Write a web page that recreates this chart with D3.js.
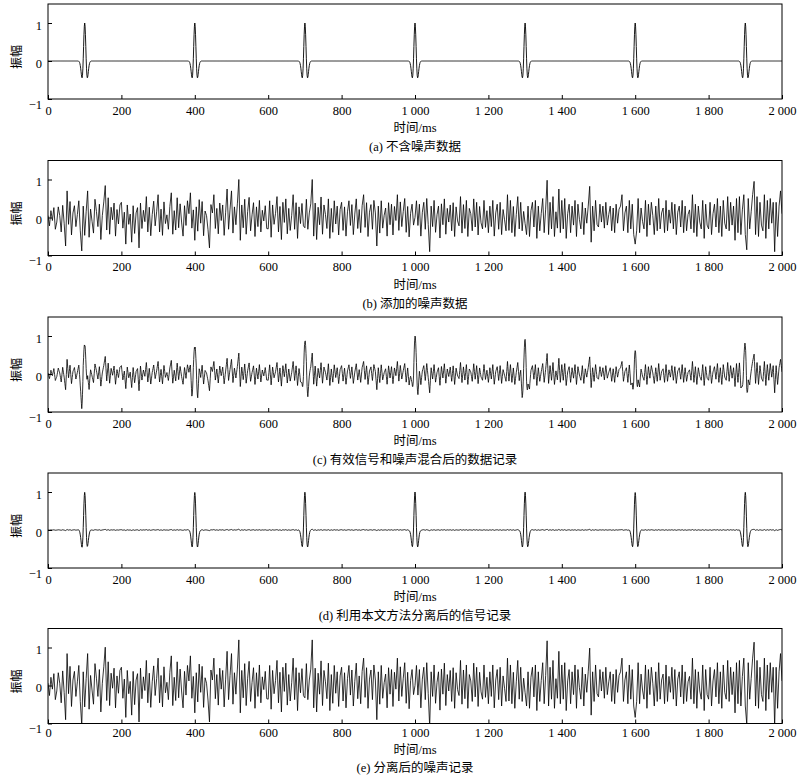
<!DOCTYPE html>
<html><head><meta charset="utf-8">
<script src="https://cdn.jsdelivr.net/npm/d3@7"></script>
<style>body{margin:0;background:#fff}</style></head>
<body><svg id="chart" width="805" height="777"></svg>
<script>
// ---------------- data ----------------
const xTicks = [0, 200, 400, 600, 800, 1000, 1200, 1400, 1600, 1800, 2000];
const yTicks = [-1, 0, 1];
const captions = ["(a) 不含噪声数据", "(b) 添加的噪声数据", "(c) 有效信号和噪声混合后的数据记录", "(d) 利用本文方法分离后的信号记录", "(e) 分离后的噪声记录"];
const xTitle = "时间/ms";
const yTitle = "振幅";
// pulse arrival times (ms)
const pulseTimes = [100, 400, 700, 1000, 1300, 1600, 1900];
// wavelet samples, 1 ms apart, offsets -16 .. +16 ms
const wavelet = [-0.010,-0.020,-0.039,-0.071,-0.121,-0.190,-0.274,-0.362,-0.428,-0.443,-0.375,-0.205,0.059,0.380,0.690,0.917,
  1.000,
  0.917,0.690,0.380,0.059,-0.205,-0.375,-0.443,-0.428,-0.362,-0.274,-0.190,-0.121,-0.071,-0.039,-0.020,-0.010];
// added noise (panel b), one sample every 4 ms from 0 to 2000 ms
const noiseStep = 4;
const noiseB = [
 0.05,-0.22,0.18,-0.08,0.26,-0.31,-0.12,0.28,0.05,-0.38,0.32,-0.15,-0.75,0.70,-0.18,0.42,-0.46,0.12,0.31,-0.24,0.08,0.44,-0.35,-0.88,0.30,
 -0.47,0.15,0.70,-0.52,0.22,-0.10,-0.41,0.48,0.16,-0.24,0.35,-0.58,0.05,0.41,0.84,-0.33,0.52,-0.44,0.27,-0.06,0.38,-0.49,0.21,-0.17,0.33,
 0.40,-0.28,0.14,-0.70,0.33,-0.18,0.09,-0.65,0.31,-0.42,0.12,0.26,-0.80,0.38,-0.29,0.19,-0.11,0.55,-0.38,0.27,-0.48,0.08,0.43,-0.22,0.15,
 0.60,-0.38,0.22,-0.47,0.41,-0.16,0.07,-0.31,0.29,0.65,-0.44,0.18,-0.33,0.52,-0.27,0.36,-0.12,-0.49,0.31,-0.21,0.44,0.10,0.65,-0.28,0.20,
 -0.60,0.28,-0.36,0.47,-0.15,0.42,-0.48,0.17,0.05,-0.32,-0.80,0.34,0.12,0.60,-0.29,0.24,-0.43,0.38,-0.08,0.33,-0.47,0.14,0.75,-0.31,0.22,
 0.70,-0.41,0.28,-0.19,0.36,1.00,-0.60,0.33,-0.27,0.48,-0.44,0.16,0.53,-0.35,0.07,0.39,-0.50,0.28,-0.24,0.45,-0.38,0.19,-0.09,0.31,-0.29,
 -0.30,0.44,-0.52,0.33,-0.18,0.11,0.55,-0.38,0.29,-0.58,0.40,-0.13,0.49,-0.43,0.24,-0.34,0.06,0.60,-0.31,0.39,-0.55,0.28,-0.16,0.37,-0.22,
 -0.27,0.48,-0.31,0.12,0.36,1.00,-0.49,0.38,-0.58,0.27,-0.19,0.54,-0.44,0.33,0.08,-0.29,0.49,-0.55,0.24,-0.39,0.44,-0.17,0.30,-0.46,0.21,
 0.40,-0.34,0.28,-0.49,0.15,0.44,-0.21,0.34,-0.45,0.09,0.49,-0.29,0.21,-0.40,0.31,0.60,-0.26,0.39,-0.50,0.14,0.34,-0.31,0.45,0.12,-0.75,
 0.30,-0.41,0.44,-0.28,0.06,0.25,-0.49,0.39,-0.19,0.35,-0.46,0.29,-0.08,0.60,-0.34,0.41,-0.24,0.16,0.50,-0.39,0.29,-0.51,0.11,0.35,-0.20,
 0.00,0.44,-0.21,0.35,-0.49,0.14,0.40,-0.31,0.50,-0.18,-0.90,0.30,-0.24,0.45,-0.39,0.07,0.30,-0.54,0.36,-0.19,0.49,-0.44,0.24,-0.12,0.33,
 -0.35,0.39,-0.50,0.28,-0.09,-0.22,0.55,-0.41,0.34,-0.29,0.45,-0.50,0.24,0.10,-0.35,0.49,-0.25,0.40,-0.46,0.29,-0.14,-0.30,0.45,-0.26,0.18,
 -0.40,0.30,-0.24,0.45,-0.49,0.12,0.35,-0.31,0.40,-0.45,0.21,-0.06,-0.35,0.60,-0.34,0.45,-0.40,0.29,-0.50,0.08,0.55,-0.30,0.40,-0.35,0.16,
 -0.16,-0.45,0.30,-0.50,0.18,0.40,-0.25,0.45,-0.55,0.30,-0.35,0.11,0.50,-0.40,0.22,0.98,-0.45,0.40,-0.30,0.55,-0.50,0.15,-0.28,0.75,-0.40,
 0.45,-0.30,0.50,-0.55,0.10,0.35,-0.40,0.30,-0.20,0.45,-0.50,0.35,-0.05,-0.30,0.40,-0.45,0.25,-0.15,0.30,0.82,-0.65,0.30,-0.35,0.45,-0.18,
 -0.25,0.35,-0.12,0.30,-0.28,0.40,-0.20,0.08,0.30,-0.35,0.25,-0.40,0.35,-0.15,0.22,0.30,0.60,-0.35,0.12,0.30,-0.40,0.45,-0.30,0.35,-0.45,
 -0.70,-0.35,0.50,-0.40,0.25,-0.10,-0.30,0.45,-0.50,0.35,-0.20,0.40,0.05,-0.45,0.30,-0.35,0.50,-0.30,0.12,0.25,-0.40,0.45,-0.35,0.20,-0.15,
 0.40,-0.30,0.35,-0.45,0.14,0.30,-0.25,0.45,-0.40,0.30,-0.35,0.08,0.20,-0.30,0.60,-0.40,0.35,-0.50,0.30,-0.12,-0.30,0.45,-0.55,0.35,-0.20,
 -0.30,0.40,-0.45,0.10,0.35,-0.25,0.50,-0.40,0.30,-0.50,0.45,-0.15,-0.30,0.55,-0.35,0.40,-0.20,0.30,-0.60,0.50,-0.40,0.55,-0.45,0.20,0.60,
 -0.45,-0.85,0.50,-0.30,0.15,0.60,0.95,-0.45,0.55,-0.50,0.40,-0.20,-0.35,0.60,-0.55,0.45,-0.30,0.50,-0.15,0.40,-0.90,0.40,-0.50,0.30,0.70,
 0.10];
// noise level of each panel relative to the added noise
const noiseGain = [0, 1, 0.55, 0.02, 1.2];
const hasSignal = [true, false, true, true, false];

// ---------------- build series ----------------
const noiseTimes = noiseB.map((_, i) => i * noiseStep);
const noiseAt = d3.scaleLinear().domain(noiseTimes).range(noiseB);
const halfW = (wavelet.length - 1) / 2;
function signalAt(t) {
  for (const p of pulseTimes) {
    const k = t - p;
    if (Math.abs(k) <= halfW) return wavelet[k + halfW];
  }
  return 0;
}
const fineTimes = d3.range(0, 2001, 1);
function series(i) {
  if (!hasSignal[i]) return noiseTimes.map((t, j) => [t, noiseGain[i] * noiseB[j]]);
  return fineTimes.map(t => [t, signalAt(t) + noiseGain[i] * noiseAt(t)]);
}

// ---------------- draw ----------------
const svg = d3.select("#chart");
const x = d3.scaleLinear().domain([0, 2000]).range([48, 782]);
const fmtX = d3.formatLocale({decimal: ".", thousands: " ", grouping: [3], currency: ["", ""]}).format(",");
const serif = "'Liberation Serif','Times New Roman','Noto Sans CJK SC',serif";
const panelTops = [4, 160.5, 317, 473, 628.5];
const tickOff = [106.5, 106.5, 106.5, 106.5, 104.5];
const titleOff = [123.5, 123.5, 123.5, 123.5, 120.8];
const capOff = [142, 142.5, 142.5, 142.5, 138.6];
const plotH = 95;

captions.forEach((cap, i) => {
  const top = panelTops[i];
  const y = d3.scaleLinear().domain([-1, 1.5]).range([top + plotH, top]);
  const g = svg.append("g");
  const clipId = "clip" + i;
  svg.append("clipPath").attr("id", clipId).append("rect")
    .attr("x", 48).attr("y", top).attr("width", 734).attr("height", plotH);

  g.append("path").datum(series(i))
    .attr("clip-path", `url(#${clipId})`)
    .attr("fill", "none").attr("stroke", "#000")
    .attr("stroke-width", hasSignal[i] && noiseGain[i] < 0.1 ? 0.9 : 0.8)
    .attr("stroke-linejoin", "round")
    .attr("d", d3.line().x(d => x(d[0])).y(d => y(d[1])));

  // x axis
  const xa = g.append("g").attr("transform", `translate(0,${top + plotH})`)
    .call(d3.axisBottom(x).tickValues(xTicks).tickSize(-4).tickFormat(fmtX));
  xa.select(".domain").remove();
  xa.selectAll("line").attr("stroke", "#000");
  xa.selectAll("text").attr("y", tickOff[i] - plotH).attr("dy", "0.35em")
    .style("font-family", serif).style("font-size", "12.5px").attr("fill", "#000");

  // y axis
  const ya = g.append("g").attr("transform", "translate(48,0)")
    .call(d3.axisLeft(y).tickValues(yTicks).tickSize(-4).tickPadding(6)
      .tickFormat(d => d < 0 ? "\u2212" + Math.abs(d) : String(d)));
  ya.select(".domain").remove();
  ya.selectAll("line").attr("stroke", "#000");
  ya.selectAll("text").attr("dy", d => d < 0 ? "0.75em" : "0.5em")
    .style("font-family", serif).style("font-size", "12.5px").attr("fill", "#000");

  // frame
  g.append("rect").attr("x", 48).attr("y", top).attr("width", 734).attr("height", plotH)
    .attr("fill", "none").attr("stroke", "#000").attr("stroke-width", 1);

  // y title
  g.append("text").attr("transform", `translate(17,${top + 53}) rotate(-90)`)
    .attr("text-anchor", "middle").attr("dy", "0.35em")
    .style("font-family", serif).style("font-size", "12px").text(yTitle);
  // x title
  g.append("text").attr("x", 415).attr("y", top + titleOff[i]).attr("dy", "0.38em")
    .attr("text-anchor", "middle").style("font-family", serif).style("font-size", "12.5px").text(xTitle);
  // caption
  g.append("text").attr("x", 415).attr("y", top + capOff[i]).attr("dy", "0.38em")
    .attr("text-anchor", "middle").style("font-family", serif).style("font-size", "12.5px").text(cap);
});
</script>
</body></html>
